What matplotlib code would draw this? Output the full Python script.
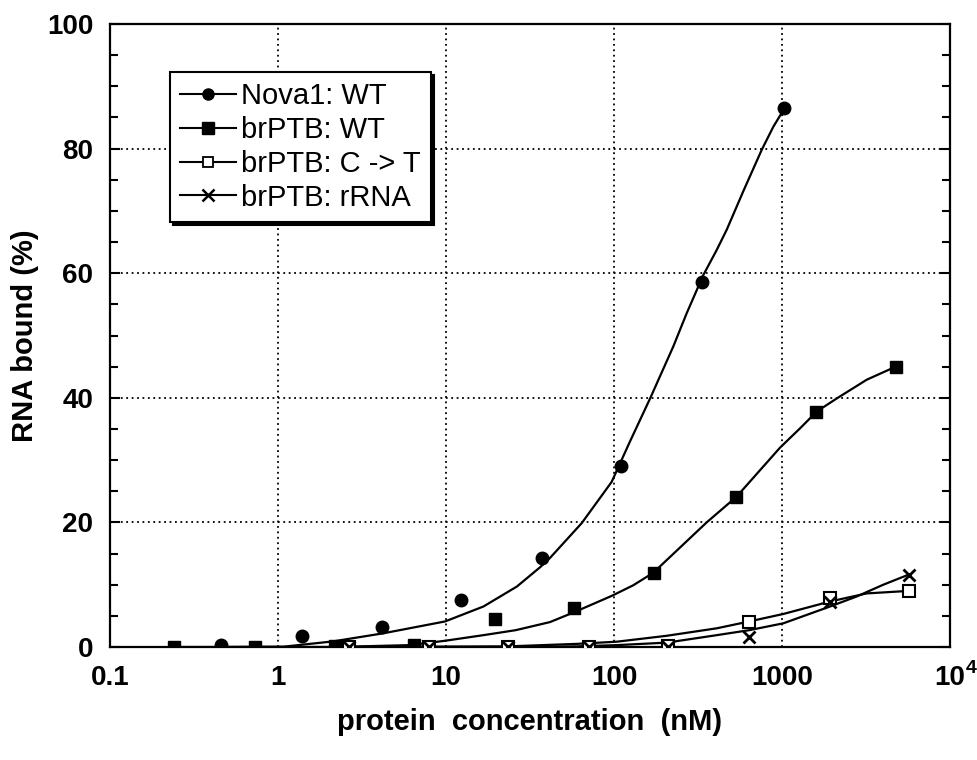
import matplotlib
matplotlib.use('Agg')
import matplotlib.pyplot as plt
from matplotlib.lines import Line2D
from matplotlib.ticker import FixedLocator, FixedFormatter, MultipleLocator

plt.rcParams['font.family'] = ['Liberation Sans', 'DejaVu Sans']

nova_x = [0.46, 1.39, 4.14, 12.3, 37.4, 110, 336, 1030]
nova_y = [0.3, 1.8, 3.2, 7.6, 14.3, 29.0, 58.6, 86.5]
wt_x = [0.24, 0.73, 2.19, 6.45, 19.6, 58.1, 173, 532, 1590, 4750]
wt_y = [0.0, 0.0, 0.2, 0.3, 4.5, 6.3, 11.8, 24.0, 37.7, 45.0]
ct_x = [2.66, 7.9, 23.5, 71, 210, 637, 1930, 5730]
ct_y = [0.0, 0.0, 0.0, 0.0, 0.2, 4.0, 7.9, 9.0]
rrna_x = [2.66, 7.9, 23.5, 71, 210, 637, 1930, 5730]
rrna_y = [0.0, 0.0, 0.0, 0.0, 0.0, 1.65, 7.2, 11.6]

# fitted curves
nova_fit_x = [0.46, 1.08, 2.13, 4.24, 9.87, 16.7, 26.4, 36.3, 41.6, 64.3, 96.8, 124.5,
              164, 225, 271, 340, 408, 469, 589, 757, 887, 1020]
nova_fit_y = [0.0, 0.05, 0.9, 2.2, 4.1, 6.5, 9.7, 12.8, 14.3, 19.9, 26.5, 33.0,
              39.9, 48.2, 53.6, 59.7, 63.7, 67.0, 73.2, 79.8, 83.5, 86.2]
wt_fit_x = [0.24, 2.2, 6.1, 9.87, 16.7, 26.0, 41.6, 58.1, 96.8, 130, 171, 356, 535,
            973, 1280, 1610, 2118, 3192, 4750]
wt_fit_y = [0.0, 0.0, 0.3, 1.0, 1.9, 2.7, 4.0, 5.6, 8.2, 9.9, 11.9, 20.0, 24.1,
            32.0, 35.1, 37.8, 39.9, 42.9, 45.0]
ct_fit_x = [2.66, 23.5, 60, 104, 206, 409, 638, 1018, 1931, 3192, 5650]
ct_fit_y = [0.0, 0.1, 0.5, 0.85, 1.8, 3.0, 4.1, 5.3, 7.3, 8.6, 9.0]
rrna_fit_x = [2.66, 23.5, 60, 104, 206, 409, 638, 1018, 1931, 2780, 4010, 5650]
rrna_fit_y = [0.0, 0.0, 0.1, 0.3, 0.7, 1.9, 2.7, 3.8, 6.5, 8.1, 10.0, 11.6]

labels = ['Nova1: WT', 'brPTB: WT', 'brPTB: C -> T', 'brPTB: rRNA']
xticks = [0.1, 1, 10, 100, 1000, 10000]
xticklabels = ['0.1', '1', '10', '100', '1000', '10']  # last one gets a superscript 4 below

fig = plt.figure(figsize=(9.77, 7.6), dpi=100)
ax = fig.add_axes([0.1126, 0.1487, 0.8598, 0.8197])

lw = 1.6
ax.plot(nova_fit_x, nova_fit_y, color='black', lw=lw)
ax.plot(wt_fit_x, wt_fit_y, color='black', lw=lw)
ax.plot(ct_fit_x, ct_fit_y, color='black', lw=lw)
ax.plot(rrna_fit_x, rrna_fit_y, color='black', lw=lw)

ax.plot(nova_x, nova_y, 'o', color='black', ms=9, zorder=5)
ax.plot(wt_x, wt_y, 's', color='black', ms=9, zorder=5)
ax.plot(ct_x, ct_y, 's', mfc='white', mec='black', mew=1.5, ms=8.5, zorder=5)
ax.plot(rrna_x, rrna_y, 'x', color='black', mew=2, ms=9, zorder=6)

ax.set_xscale('log')
ax.set_xlim(0.1, 10000)
ax.set_ylim(0, 100)

ax.xaxis.set_major_locator(FixedLocator(xticks))
ax.xaxis.set_major_formatter(FixedFormatter(xticklabels))
ax.xaxis.set_minor_locator(FixedLocator([]))
ax.yaxis.set_major_locator(MultipleLocator(20))
ax.yaxis.set_minor_locator(MultipleLocator(5))

ax.grid(True, which='major', color='black', linestyle=(0, (1, 2)), lw=1.3)
ax.tick_params(axis='x', length=0, pad=13, labelsize=20)
ax.tick_params(axis='y', which='both', direction='in', right=True, labelsize=20, pad=12)
ax.tick_params(axis='y', which='major', length=7, width=1.5)
ax.tick_params(axis='y', which='minor', length=6, width=1.5)
for lab in ax.get_xticklabels() + ax.get_yticklabels():
    lab.set_fontweight('bold')
for sp in ax.spines.values():
    sp.set_linewidth(1.6)

# exponent of the 10^4 tick label
ax.annotate('4', xy=(1, 0), xycoords='axes fraction', xytext=(11.5, -9.5),
            textcoords='offset points', ha='left', va='top', fontsize=14,
            fontweight='bold', annotation_clip=False)

ax.set_xlabel('protein  concentration  (nM)', fontsize=21, fontweight='bold', labelpad=12)
ax.set_ylabel('RNA bound (%)', fontsize=21, fontweight='bold', labelpad=6)

handles = [
    Line2D([], [], color='black', lw=1.5, marker='o', ms=8),
    Line2D([], [], color='black', lw=1.5, marker='s', ms=8),
    Line2D([], [], color='black', lw=1.5, marker='s', ms=7, mfc='white', mew=1.3),
    Line2D([], [], color='black', lw=1.5, marker='x', ms=8, mew=1.8),
]
leg = ax.legend(handles, labels, loc='upper left', bbox_to_anchor=(0.0714, 0.923),
                borderaxespad=0, fontsize=21, frameon=True, fancybox=False,
                shadow={'color': 'black', 'alpha': 1}, handlelength=1.9,
                handletextpad=0.2, labelspacing=0.2, borderpad=0.35)
leg.get_frame().set_edgecolor('black')
leg.get_frame().set_linewidth(1.5)
leg.get_frame().set_alpha(1)

fig.savefig('out.png', dpi=100)
